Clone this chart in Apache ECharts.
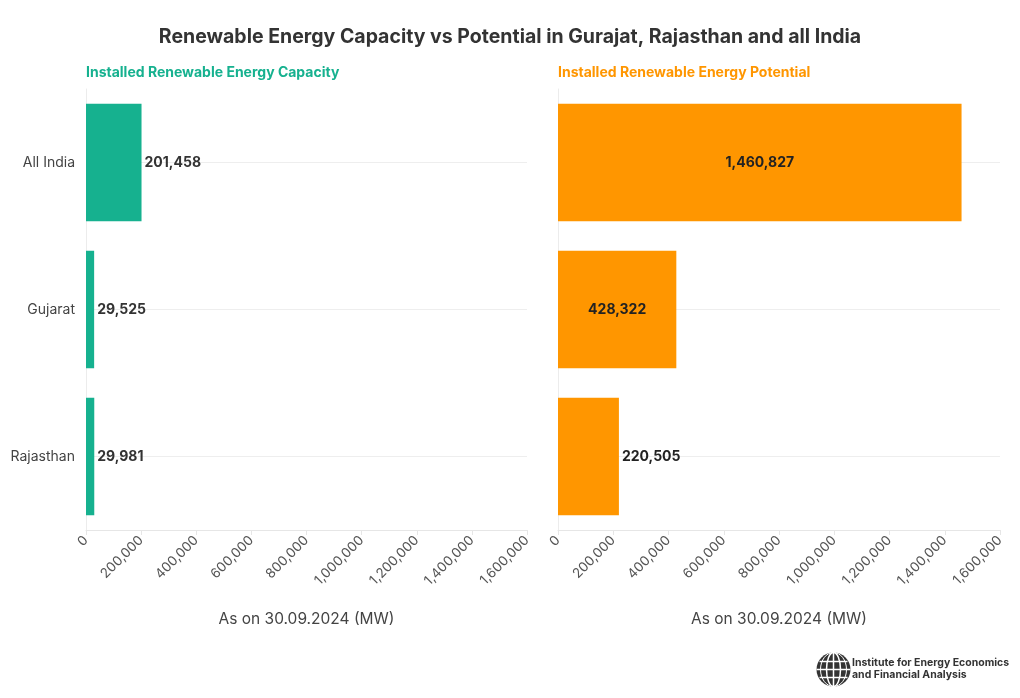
<!DOCTYPE html>
<html><head><meta charset="utf-8">
<script src="https://cdn.jsdelivr.net/npm/echarts@6/dist/echarts.min.js"></script>
<style>html,body{margin:0;padding:0;background:#fff}#c{width:1020px;height:698px}</style>
</head><body><div id="c"></div>
<script>
const categories = ['All India', 'Gujarat', 'Rajasthan'];
const capacity = [201458, 29525, 29981];
const potential = [1460827, 428322, 220505];
const potentialLabelPos = ['inside', 'inside', 'right'];
const xTicks = [0, 200000, 400000, 600000, 800000, 1000000, 1200000, 1400000, 1600000];

const FONT = 'Inter, "Noto Sans", sans-serif';
const TEAL = '#16b18f';
const ORANGE = '#ff9600';
const chart = echarts.init(document.getElementById('c'), null, {renderer: 'canvas'});

function xAxisCfg(gi) {
  return {
    type: 'value', gridIndex: gi, min: xTicks[0], max: xTicks[xTicks.length - 1], interval: 200000,
    name: 'As on 30.09.2024 (MW)', nameLocation: 'middle', nameGap: 81,
    nameTextStyle: {fontFamily: FONT, fontSize: 15.5, color: '#444'},
    axisLine: {show: true, lineStyle: {color: '#e6e6e6'}},
    axisTick: {show: true, length: 5, lineStyle: {color: '#e6e6e6'}},
    splitLine: {show: false},
    axisLabel: {rotate: 45, fontFamily: FONT, fontSize: 13.5, color: '#555', margin: 8,
      formatter: v => v.toLocaleString('en-US')}
  };
}
function yAxisCfg(gi, showLabels) {
  return {
    type: 'category', gridIndex: gi, data: categories, inverse: true,
    axisLine: {show: true, lineStyle: {color: '#ececec'}},
    axisTick: {show: false},
    splitLine: {show: true, alignWithLabel: true, lineStyle: {color: '#eeeeee'}},
    axisLabel: {show: showLabels, fontFamily: FONT, fontSize: 14, color: '#444', margin: 11}
  };
}

chart.setOption({
  animation: false,
  backgroundColor: '#fff',
  title: [
    {text: 'Renewable Energy Capacity vs Potential in Gurajat, Rajasthan and all India',
     left: 'center', top: 22, textStyle: {fontFamily: FONT, fontSize: 19.5, fontWeight: 'bold', color: '#333'}},
    {text: 'Installed Renewable Energy Capacity', left: 81, top: 61,
     textStyle: {fontFamily: FONT, fontSize: 14, fontWeight: 'bold', color: TEAL}},
    {text: 'Installed Renewable Energy Potential', left: 553, top: 61,
     textStyle: {fontFamily: FONT, fontSize: 14, fontWeight: 'bold', color: ORANGE}}
  ],
  grid: [
    {left: 86, width: 441, top: 89, height: 441},
    {left: 558, width: 442, top: 89, height: 441}
  ],
  xAxis: [xAxisCfg(0), xAxisCfg(1)],
  yAxis: [yAxisCfg(0, true), yAxisCfg(1, false)],
  series: [
    {type: 'bar', xAxisIndex: 0, yAxisIndex: 0, data: capacity, barWidth: '80%',
     itemStyle: {color: TEAL},
     label: {show: true, position: 'right', distance: 3, fontFamily: FONT, fontSize: 14, fontWeight: 'bold', color: '#333',
       formatter: p => p.value.toLocaleString('en-US')}},
    {type: 'bar', xAxisIndex: 1, yAxisIndex: 1, barWidth: '80%', itemStyle: {color: ORANGE},
     data: potential.map((v, i) => ({value: v, label: {position: potentialLabelPos[i]}})),
     label: {show: true, distance: 3, fontFamily: FONT, fontSize: 14, fontWeight: 'bold', color: '#222',
       formatter: p => p.value.toLocaleString('en-US')}}
  ],
  graphic: [
    {type: 'group', left: 814, top: 650, children: [
      {type: 'circle', shape: {cx: 17, cy: 17, r: 17}, style: {fill: '#333'}},
      {type: 'ellipse', shape: {cx: 17, cy: 17, rx: 7, ry: 17}, style: {fill: null, stroke: '#fff', lineWidth: 1.5}},
      {type: 'ellipse', shape: {cx: 17, cy: 17, rx: 13, ry: 17}, style: {fill: null, stroke: '#fff', lineWidth: 1}},
      {type: 'line', shape: {x1: 17, y1: 0, x2: 17, y2: 34}, style: {stroke: '#fff', lineWidth: 1.5}},
      {type: 'line', shape: {x1: 0, y1: 17, x2: 34, y2: 17}, style: {stroke: '#fff', lineWidth: 1.5}},
      {type: 'line', shape: {x1: 3, y1: 9, x2: 31, y2: 9}, style: {stroke: '#fff', lineWidth: 1.5}},
      {type: 'line', shape: {x1: 3, y1: 25, x2: 31, y2: 25}, style: {stroke: '#fff', lineWidth: 1.5}}
    ]},
    {type: 'text', left: 852, top: 657, style: {text: 'Institute for Energy Economics\nand Financial Analysis',
      fontFamily: FONT, fontSize: 10.5, fontWeight: 'bold', fill: '#333', lineHeight: 12}}
  ]
});
</script></body></html>
